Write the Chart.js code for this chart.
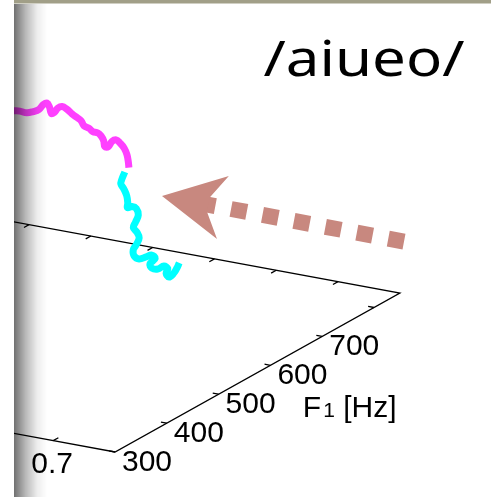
<!DOCTYPE html>
<html>
<head>
<meta charset="utf-8">
<script src="https://cdn.jsdelivr.net/npm/chart.js@4.4.1/dist/chart.umd.min.js"></script>
<style>
  html, body { margin: 0; padding: 0; background: #ffffff; }
  #wrap { position: relative; width: 491px; height: 497px; }
</style>
</head>
<body>
<div id="wrap"><canvas id="c"></canvas></div>
<script>
// Formant trajectory of /e/ (time [s], F1 [Hz], F2 [Hz])
const eTime = [0.491, 0.500, 0.506, 0.514, 0.521, 0.528, 0.535, 0.539, 0.544, 0.551, 0.555, 0.561, 0.566, 0.572, 0.579, 0.586,
               0.592, 0.597, 0.604, 0.609, 0.614, 0.619, 0.625, 0.631, 0.635, 0.641, 0.646, 0.651, 0.659, 0.666, 0.674, 0.680];
const eF1 = [458, 463, 467, 471, 475, 478, 478, 480, 479, 474, 475, 475, 477, 479, 481, 482,
             483, 482, 484, 485, 489, 489, 487, 482, 484, 484, 486, 487, 486, 483, 476, 470];
const eF2 = [1865, 1857, 1851, 1837, 1843, 1859, 1899, 1909, 1886, 1857, 1865, 1901, 1912, 1894, 1861, 1839,
             1818, 1790, 1772, 1751, 1737, 1720, 1694, 1668, 1667, 1709, 1720, 1701, 1671, 1636, 1608, 1583];

// Formant trajectory of /o/
const oTime = [0.686, 0.690, 0.693, 0.696, 0.700, 0.705, 0.707, 0.710, 0.713, 0.717, 0.721, 0.724, 0.728, 0.731, 0.736, 0.739,
               0.743, 0.746, 0.750, 0.754, 0.757, 0.761, 0.764, 0.767, 0.771, 0.774, 0.777, 0.780, 0.783, 0.787, 0.790];
const oF1 = [455, 444, 439, 441, 442, 438, 435, 440, 445, 444, 434, 426, 428, 429, 417, 408,
             405, 411, 420, 426, 429, 414, 414, 422, 429, 433, 426, 428, 434, 435, 436];
const oF2 = [1587, 1556, 1540, 1504, 1455, 1417, 1392, 1391, 1369, 1328, 1302, 1281, 1248, 1207, 1185, 1171,
             1137, 1106, 1106, 1109, 1082, 1076, 1049, 1028, 1038, 1014, 1000, 969, 988, 1025, 1062];

// Axis ticks
const timeTicks = [0.1, 0.2, 0.3, 0.4, 0.5, 0.6, 0.7];
const timeTickLabels = ['0.1', '0.2', '0.3', '0.4', '0.5', '0.6', '0.7'];
const f1Ticks = [300, 400, 500, 600, 700, 800];
const f1TickLabels = ['300', '400', '500', '600', '700'];
const titleText = '/aiueo/';
const f1AxisName = 'F';
const f1AxisSub = '1';
const f1AxisUnit = ' [Hz]';

// Axis box limits
const T_MIN = 0, T_MAX = 0.8, F1_MIN = 300, F1_MAX = 850, F2_FLOOR = 0;

// Oblique camera: view-plane units per second / per Hz
const cam = { ox: 115, oy: 452, tx: 618, ty: 114, fx: 0.518, fy: -0.289, zy: -0.14 };
function project(t, f1, f2) {
  return {
    x: cam.ox + (t - T_MAX) * cam.tx + (f1 - F1_MIN) * cam.fx,
    y: cam.oy + (t - T_MAX) * cam.ty + (f1 - F1_MIN) * cam.fy + (f2 - F2_FLOOR) * cam.zy
  };
}
// Visible window of the view plane
const VIEW = { xMin: 14, xMax: 491, yMin: 4, yMax: 497 };

// Direction arrow annotation (view-plane units)
const arrowTip = { x: 162, y: 196 };
const arrowTail = { x: 404, y: 241.6 };

const ePts = eTime.map((t, i) => project(t, eF1[i], eF2[i]));
const oPts = oTime.map((t, i) => project(t, oF1[i], oF2[i]));

const AXIS_FONT = '30px "Liberation Sans", Arial, sans-serif';

function toPx(chart, p) {
  return { x: chart.scales.x.getPixelForValue(p.x), y: chart.scales.y.getPixelForValue(p.y) };
}

const boxPlugin = {
  id: 'box3d',
  beforeDatasetsDraw(chart) {
    const ctx = chart.ctx, a = chart.chartArea;
    const P = (t, f1) => toPx(chart, project(t, f1, F2_FLOOR));
    ctx.save();
    ctx.beginPath();
    ctx.rect(a.left, a.top, a.right - a.left, a.bottom - a.top);
    ctx.clip();
    ctx.strokeStyle = '#000';
    ctx.lineWidth = 1.3;
    // floor edges
    const p1 = P(T_MIN, F1_MIN), p2 = P(T_MAX, F1_MIN), p3 = P(T_MAX, F1_MAX), p4 = P(T_MIN, F1_MAX);
    ctx.beginPath();
    ctx.moveTo(p1.x, p1.y); ctx.lineTo(p2.x, p2.y); ctx.lineTo(p3.x, p3.y); ctx.lineTo(p4.x, p4.y);
    ctx.stroke();
    // time ticks on front and back edges, F1 ticks on the side edge
    const dF = 10, dT = 0.0095;
    ctx.beginPath();
    timeTicks.forEach(t => {
      const f0 = P(t, F1_MIN), f1 = P(t, F1_MIN + dF);
      ctx.moveTo(f0.x, f0.y); ctx.lineTo(f1.x, f1.y);
      const b0 = P(t, F1_MAX), b1 = P(t, F1_MAX - dF);
      ctx.moveTo(b0.x, b0.y); ctx.lineTo(b1.x, b1.y);
    });
    f1Ticks.forEach(f => {
      const s0 = P(T_MAX, f), s1 = P(T_MAX - dT, f);
      ctx.moveTo(s0.x, s0.y); ctx.lineTo(s1.x, s1.y);
    });
    ctx.stroke();
    // tick labels
    ctx.fillStyle = '#000';
    ctx.font = AXIS_FONT;
    ctx.textBaseline = 'alphabetic';
    ctx.textAlign = 'center';
    timeTicks.forEach((t, i) => {
      const p = P(t, F1_MIN);
      ctx.fillText(timeTickLabels[i], p.x - 1, p.y + 32.5);
    });
    ctx.textAlign = 'left';
    f1TickLabels.forEach((lab, i) => {
      const p = P(T_MAX, f1Ticks[i]);
      ctx.fillText(lab, p.x + 7, p.y + 18.5);
    });
    // F1 axis name with subscript
    const n = P(T_MAX, 650);
    let x = n.x + 6.5, y = n.y + 66;
    ctx.fillText(f1AxisName, x, y);
    x += ctx.measureText(f1AxisName).width + 2;
    ctx.font = '21px "Liberation Sans", Arial, sans-serif';
    ctx.fillText(f1AxisSub, x, y);
    x += ctx.measureText(f1AxisSub).width;
    ctx.font = AXIS_FONT;
    ctx.fillText(f1AxisUnit, x, y);
    ctx.restore();
  },
  afterDatasetsDraw(chart) {
    const ctx = chart.ctx;
    // arrow: dashed shaft + notched head
    const tip = toPx(chart, arrowTip), tail = toPx(chart, arrowTail);
    const dx = tip.x - tail.x, dy = tip.y - tail.y, len = Math.hypot(dx, dy);
    const ux = dx / len, uy = dy / len, nx = uy, ny = -ux;
    ctx.save();
    ctx.fillStyle = '#c8887f';
    ctx.strokeStyle = '#c8887f';
    ctx.lineWidth = 16;
    ctx.lineCap = 'butt';
    ctx.setLineDash([16, 16]);
    ctx.beginPath();
    ctx.moveTo(tail.x, tail.y);
    ctx.lineTo(tail.x + ux * 208, tail.y + uy * 208);
    ctx.stroke();
    ctx.setLineDash([]);
    const hl = 62, hw = 32, notch = 47;
    ctx.beginPath();
    ctx.moveTo(tip.x, tip.y);
    ctx.lineTo(tip.x - ux * hl + nx * hw, tip.y - uy * hl + ny * hw);
    ctx.lineTo(tip.x - ux * notch + nx * 7, tip.y - uy * notch + ny * 7);
    ctx.lineTo(tip.x - ux * notch - nx * 7, tip.y - uy * notch - ny * 7);
    ctx.lineTo(tip.x - ux * hl - nx * hw, tip.y - uy * hl - ny * hw);
    ctx.closePath();
    ctx.fill();
    // title
    ctx.fillStyle = '#000';
    ctx.font = '400 50px "Noto Sans", "Open Sans", sans-serif';
    ctx.textAlign = 'center';
    ctx.textBaseline = 'alphabetic';
    ctx.translate(364, 76);
    ctx.scale(1.2, 1);
    ctx.fillText(titleText, 0, 0);
    ctx.restore();
  },
  afterDraw(chart) {
    const ctx = chart.ctx, a = chart.chartArea;
    ctx.save();
    // shaded page edge
    const g = ctx.createLinearGradient(a.left, 0, a.left + 33, 0);
    g.addColorStop(0, 'rgba(0,0,0,0.56)');
    g.addColorStop(0.35, 'rgba(0,0,0,0.28)');
    g.addColorStop(0.7, 'rgba(0,0,0,0.07)');
    g.addColorStop(1, 'rgba(0,0,0,0)');
    ctx.fillStyle = g;
    ctx.fillRect(a.left, a.top, 33, a.bottom - a.top);
    // top border strip
    ctx.fillStyle = '#a19f88';
    ctx.fillRect(a.left, 0, a.right - a.left, a.top - 0.5);
    ctx.restore();
  }
};

new Chart(document.getElementById('c'), {
  type: 'scatter',
  data: {
    datasets: [
      { label: '/e/', data: ePts, showLine: true, borderColor: '#ff40ff', borderWidth: 7,
        tension: 0.4, pointRadius: 0, borderCapStyle: 'butt', borderJoinStyle: 'round', clip: 0 },
      { label: '/o/', data: oPts, showLine: true, borderColor: '#00ffff', borderWidth: 7,
        tension: 0.4, pointRadius: 0, borderCapStyle: 'butt', borderJoinStyle: 'round', clip: 0 }
    ]
  },
  options: {
    responsive: true,
    maintainAspectRatio: false,
    animation: false,
    layout: { padding: { left: VIEW.xMin, top: VIEW.yMin, right: 0, bottom: 0 } },
    scales: {
      x: { type: 'linear', min: VIEW.xMin, max: VIEW.xMax, display: false },
      y: { type: 'linear', min: VIEW.yMin, max: VIEW.yMax, reverse: true, display: false }
    },
    plugins: { legend: { display: false }, tooltip: { enabled: false } }
  },
  plugins: [boxPlugin]
});
</script>
</body>
</html>
